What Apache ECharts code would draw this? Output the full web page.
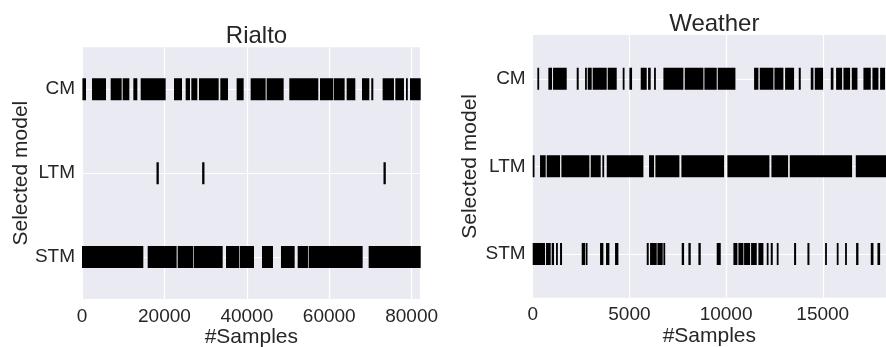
<!DOCTYPE html>
<html><head><meta charset="utf-8">
<script src="https://cdn.jsdelivr.net/npm/echarts@6/dist/echarts.min.js"></script>
<style>html,body{margin:0;padding:0;background:#fff}#c{width:886px;height:347px}</style>
</head><body><div id="c"></div>
<script>
const models = ['STM', 'LTM', 'CM'];
const titles = ['Rialto', 'Weather'];
const xLabel = '#Samples';
const yLabel = 'Selected model';
const rialtoMax = 82200;
const weatherMax = 18270;
const rialtoTickStep = 20000;
const weatherTickStep = 5000;

// Rialto: [start, end] sample ranges where each model is selected
const rialtoCM = [[100,970],[2430,5825],[6960,9630],[9870,11490],[12460,13430],[14240,20300],[22330,24270],[25160,26210],[26530,27990],[28390,33170],[33570,35430],[37530,39230],[40930,44570],[44810,48940],[50310,57350],[57760,60990],[61150,63740],[64230,66330],[67950,69730],[70210,70700],[72960,75710],[76040,78140],[78630,78950],[79600,82200]];
const rialtoLTM = [[18080,18640],[29160,29720],[73170,73730]];
const rialtoSTM = [[0,14880],[15940,22970],[23220,27020],[27180,34140],[34950,38180],[38340,41740],[43680,46350],[48290,51610],[52340,54840],[55010,68110],[69570,82200]];

// Weather
const weatherCM = [[241,310],[810,1000],[1052,1759],[2276,2379],[2707,2776],[2845,3052],[3103,3828],[3879,4345],[4655,4724],[5000,5138],[5586,5897],[5966,6103],[6276,6362],[6759,7793],[7862,8828],[8879,9517],[9569,10483],[11448,11672],[11741,12448],[12500,12965],[13052,13517],[13758,13862],[14379,14517],[14586,15017],[15414,15552],[15689,16000],[16069,16414],[16500,16793],[17103,17483],[17569,17879],[17965,18220]];
const weatherLTM = [[0,69],[379,672],[724,1414],[1483,2931],[3000,3517],[3603,3672],[3828,5724],[6017,6276],[6345,7586],[7690,9897],[10069,12241],[12345,13207],[13293,16517],[16707,18270]];
const weatherSTM = [[0,638],[690,931],[983,1103],[1207,1276],[1414,1517],[2535,2707],[2741,2828],[3483,3655],[3793,3966],[4259,4431],[5897,6000],[6069,6414],[6448,6724],[6759,6845],[7707,7828],[8052,8172],[8569,8690],[9517,9724],[10379,10586],[10638,10897],[10931,11241],[11293,11586],[11672,11931],[12103,12190],[12310,12414],[12621,12707],[13517,13621],[14207,14310],[15121,15207],[15724,15810],[16155,16241],[16724,16845],[17483,17621],[17828,17966]];

const FONT = "'Liberation Sans', Arial, sans-serif";
const TXT = '#262626';
const BG = '#EAEAF2';

function renderItem(params, api) {
  const y = api.value(2);
  const p0 = api.coord([api.value(0), y]);
  const p1 = api.coord([api.value(1), y]);
  const h = 22;
  const w = Math.max(p1[0] - p0[0], 1.8);
  return { type: 'rect', shape: { x: p0[0], y: p0[1] - h / 2, width: w, height: h }, style: { fill: '#000' } };
}

function seriesFor(arrs, idx) {
  return arrs.map((arr, k) => ({
    type: 'custom', xAxisIndex: idx, yAxisIndex: idx, clip: true,
    renderItem: renderItem, silent: true,
    data: arr.map(d => [d[0], d[1], k])
  }));
}

function xAxisFor(idx, max, step) {
  return {
    type: 'value', gridIndex: idx, min: 0, max: max, interval: step,
    name: xLabel, nameLocation: 'middle', nameGap: 28, nameMoveOverlap: false,
    nameTextStyle: { fontFamily: FONT, fontSize: 21, color: TXT },
    axisLine: { show: false }, axisTick: { show: false },
    axisLabel: { fontFamily: FONT, fontSize: 19, color: TXT, margin: 8, showMaxLabel: false, formatter: v => String(v) },
    splitLine: { show: true, lineStyle: { color: '#fff', width: 1.2 } }
  };
}
function yAxisFor(idx, gap) {
  return {
    type: 'value', gridIndex: idx, min: -0.5, max: 2.5,
    name: yLabel, nameLocation: 'middle', nameGap: gap, nameMoveOverlap: false,
    nameTextStyle: { fontFamily: FONT, fontSize: 21, color: TXT },
    axisLine: { show: false },
    axisTick: { show: false, customValues: [0, 1, 2] },
    axisLabel: { customValues: [0, 1, 2], formatter: v => models[Math.round(v)] || '', fontFamily: FONT, fontSize: 19, color: TXT, margin: 7 },
    splitLine: { show: true, lineStyle: { color: '#fff', width: 1.2 } }
  };
}

const chart = echarts.init(document.getElementById('c'), null, { renderer: 'canvas' });
chart.setOption({
  animation: false,
  backgroundColor: '#fff',
  title: [
    { text: titles[0], left: 251.5, top: 19, textAlign: 'center', textStyle: { fontFamily: FONT, fontSize: 24, fontWeight: 'normal', color: TXT } },
    { text: titles[1], left: 709.3, top: 7, textAlign: 'center', textStyle: { fontFamily: FONT, fontSize: 24, fontWeight: 'normal', color: TXT } }
  ],
  grid: [
    { left: 82, right: 465.3, top: 47.3, bottom: 48, show: true, backgroundColor: BG, borderWidth: 0, containLabel: false, outerBoundsMode: 'none' },
    { left: 532.7, right: 0, top: 35, bottom: 49.3, show: true, backgroundColor: BG, borderWidth: 0, containLabel: false, outerBoundsMode: 'none' }
  ],
  xAxis: [xAxisFor(0, rialtoMax, rialtoTickStep), xAxisFor(1, weatherMax, weatherTickStep)],
  yAxis: [yAxisFor(0, 50), yAxisFor(1, 52)],
  series: [].concat(
    seriesFor([rialtoSTM, rialtoLTM, rialtoCM], 0),
    seriesFor([weatherSTM, weatherLTM, weatherCM], 1)
  )
});
</script>
</body></html>
